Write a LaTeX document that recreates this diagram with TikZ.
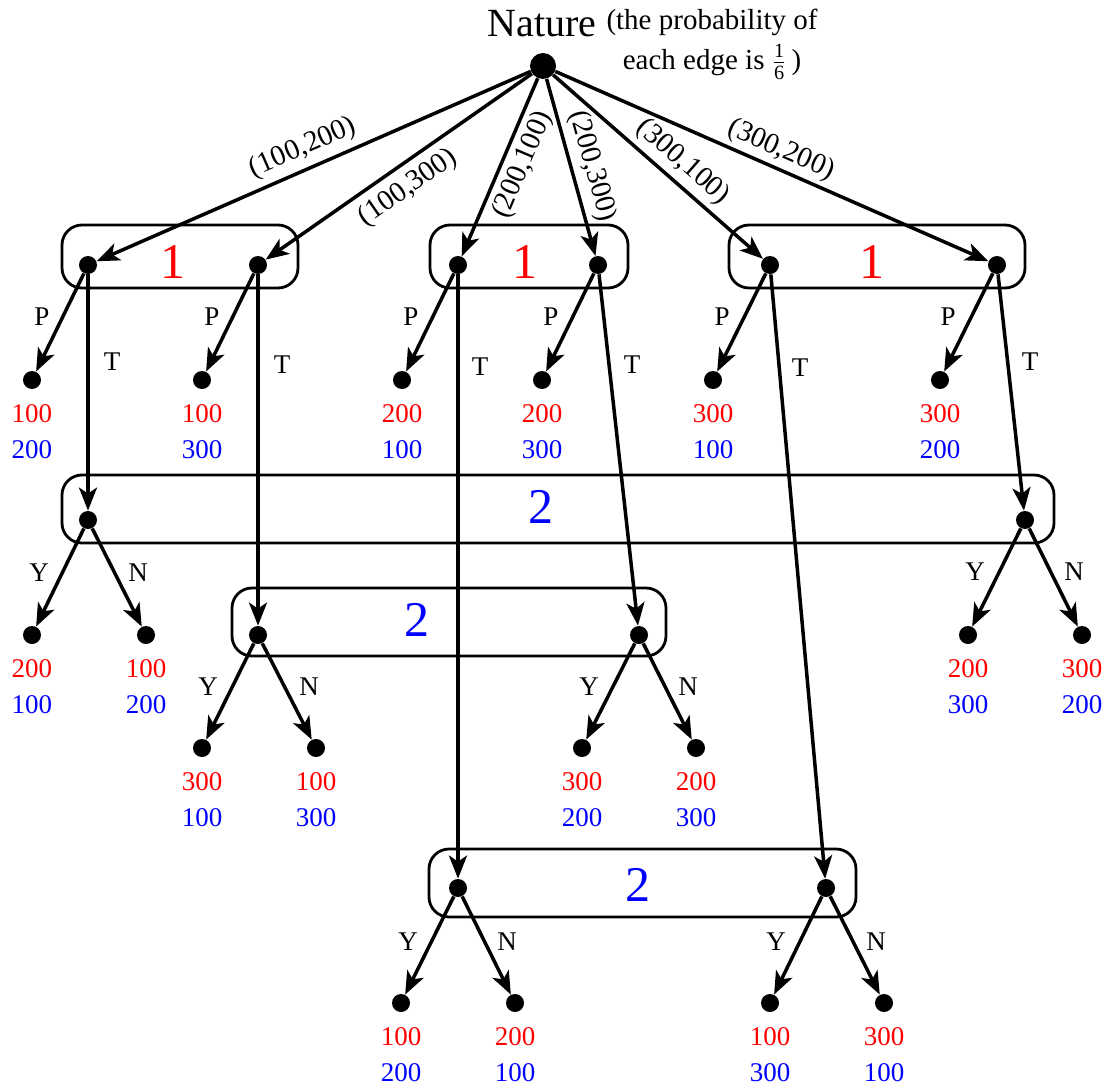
\documentclass[tikz,border=0pt]{standalone}
\usepackage{fontspec}
\usepackage{amsmath}
\setmainfont{Liberation Serif}
\usetikzlibrary{arrows.meta,calc}
\newcommand\leafnode[5]{%
  \node[dot] (#1) at (#2,#3) {};
  \node[pay,text=red] (#1r) at (#2,#3+34) {#4};
  \node[pay,text=blue] (#1b) at (#2,#3+70) {#5};
}
\begin{document}
\begin{tikzpicture}[x=0.5pt,y=-0.5pt,
  dot/.style={circle,fill=black,inner sep=0pt,minimum size=9pt},
  rootdot/.style={circle,fill=black,inner sep=0pt,minimum size=13pt},
  edge/.style={line width=1.75pt,-{Stealth[length=11.5pt,width=9pt,inset=3pt]}},
  infoset/.style={line width=1.4pt,rounded corners=10pt},
  pay/.style={font=\fontsize{13.5}{16}\selectfont,inner sep=0pt},
  act/.style={font=\fontsize{13.5}{16}\selectfont,inner sep=0pt},
  elab/.style={font=\fontsize{14.5}{17}\selectfont,inner sep=0pt},
  plone/.style={font=\fontsize{25}{28}\selectfont,text=red,inner sep=0pt},
  pltwo/.style={font=\fontsize{25}{28}\selectfont,text=blue,inner sep=0pt}]
\useasboundingbox (0,0) rectangle (1108,1086);

% information sets
\draw[infoset] (62,225) rectangle (298,288);
\draw[infoset] (430,225) rectangle (628,288);
\draw[infoset] (729,225) rectangle (1025,288);
\draw[infoset] (62,475) rectangle (1054,543);
\draw[infoset] (232,588) rectangle (666,656);
\draw[infoset] (429,849) rectangle (856,917);
\node[plone] (l1a) at (173,262) {1};
\node[plone] (l1b) at (525,262) {1};
\node[plone] (l1c) at (872,262) {1};
\node[pltwo] (l2a) at (541,507) {2};
\node[pltwo] (l2b) at (417,620) {2};
\node[pltwo] (l2c) at (638,885) {2};

% root
\node[rootdot] (root) at (543,66) {};
\node[font=\fontsize{20}{24}\selectfont,inner sep=0pt] (nat) at (542,24) {Nature};
\node[elab] (note1) at (712,22) {(the probability of};
\node[elab] (note2) at (712,62) {each edge is $\frac{\text{1}}{\text{6}}$\,)};

% player 1 nodes
\node[dot] (a1) at (88,265) {};
\node[dot] (a2) at (258,265) {};
\node[dot] (b1) at (458,265) {};
\node[dot] (b2) at (598,265) {};
\node[dot] (c1) at (770,265) {};
\node[dot] (c2) at (997,265) {};

% player 2 nodes
\node[dot] (d1) at (88,520) {};
\node[dot] (d2) at (1025,520) {};
\node[dot] (e1) at (258,635) {};
\node[dot] (e2) at (639,635) {};
\node[dot] (f1) at (458,888) {};
\node[dot] (f2) at (826,888) {};

% nature edges
\draw[edge] (root) -- (a1);
\draw[edge] (root) -- (a2);
\draw[edge] (root) -- (b1);
\draw[edge] (root) -- (b2);
\draw[edge] (root) -- (c1);
\draw[edge] (root) -- (c2);
\node[elab,rotate=23.6] (n1) at (303,148) {(100,200)};
\node[elab,rotate=34.9] (n2) at (408,188) {(100,300)};
\node[elab,rotate=66.9] (n3) at (523,165) {(200,100)};
\node[elab,rotate=-74.5] (n4) at (592,166) {(200,300)};
\node[elab,rotate=-41.2] (n5) at (683,162) {(300,100)};
\node[elab,rotate=-23.7] (n6) at (781,150) {(300,200)};

% P leaves
\leafnode{pa1}{32}{380}{100}{200}
\leafnode{pa2}{202}{380}{100}{300}
\leafnode{pb1}{402}{380}{200}{100}
\leafnode{pb2}{542}{380}{200}{300}
\leafnode{pc1}{713}{380}{300}{100}
\leafnode{pc2}{940}{380}{300}{200}
\draw[edge] (a1) -- (pa1);
\draw[edge] (a2) -- (pa2);
\draw[edge] (b1) -- (pb1);
\draw[edge] (b2) -- (pb2);
\draw[edge] (c1) -- (pc1);
\draw[edge] (c2) -- (pc2);
\node[act] at (42,317) {P};
\node[act] at (212,317) {P};
\node[act] at (411,317) {P};
\node[act] at (551,317) {P};
\node[act] at (722,317) {P};
\node[act] at (948,317) {P};

% T edges
\draw[edge] (a1) -- (d1);
\draw[edge] (a2) -- (e1);
\draw[edge] (b1) -- (f1);
\draw[edge] (b2) -- (e2);
\draw[edge] (c1) -- (f2);
\draw[edge] (c2) -- (d2);
\node[act] at (112,362) {T};
\node[act] at (282,365) {T};
\node[act] at (480,367) {T};
\node[act] at (632,365) {T};
\node[act] at (800,368) {T};
\node[act] at (1030,362) {T};

% Y/N leaves
\leafnode{yd1}{32}{635}{200}{100}
\leafnode{nd1}{146}{635}{100}{200}
\leafnode{yd2}{968}{635}{200}{300}
\leafnode{nd2}{1082}{635}{300}{200}
\leafnode{ye1}{202}{748}{300}{100}
\leafnode{ne1}{316}{748}{100}{300}
\leafnode{ye2}{582}{748}{300}{200}
\leafnode{ne2}{696}{748}{200}{300}
\leafnode{yf1}{401}{1003}{100}{200}
\leafnode{nf1}{515}{1003}{200}{100}
\leafnode{yf2}{770}{1003}{100}{300}
\leafnode{nf2}{884}{1003}{300}{100}

\draw[edge] (d1) -- (yd1);
\draw[edge] (d1) -- (nd1);
\draw[edge] (d2) -- (yd2);
\draw[edge] (d2) -- (nd2);
\draw[edge] (e1) -- (ye1);
\draw[edge] (e1) -- (ne1);
\draw[edge] (e2) -- (ye2);
\draw[edge] (e2) -- (ne2);
\draw[edge] (f1) -- (yf1);
\draw[edge] (f1) -- (nf1);
\draw[edge] (f2) -- (yf2);
\draw[edge] (f2) -- (nf2);

\node[act] at (39,573) {Y};
\node[act] at (138,573) {N};
\node[act] at (975,572) {Y};
\node[act] at (1074,572) {N};
\node[act] at (208,687) {Y};
\node[act] at (309,687) {N};
\node[act] at (589,687) {Y};
\node[act] at (688,687) {N};
\node[act] at (408,942) {Y};
\node[act] at (507,942) {N};
\node[act] at (776,942) {Y};
\node[act] at (876,942) {N};
\end{tikzpicture}
\end{document}
